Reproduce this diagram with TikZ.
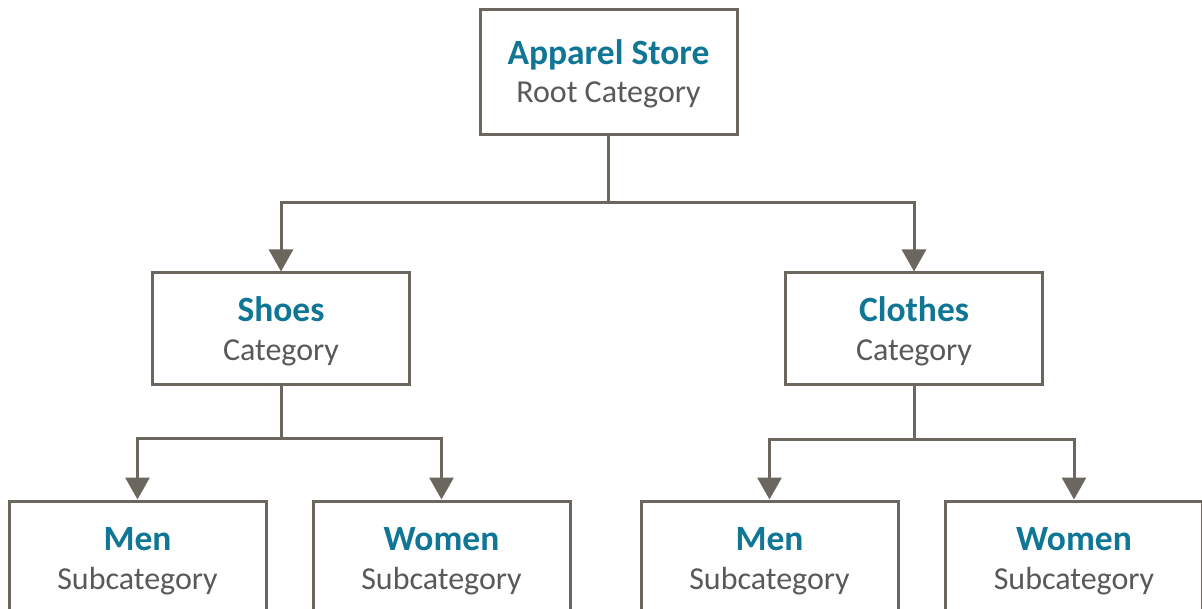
\documentclass[tikz,border=0pt]{standalone}
\usepackage{fontspec}
\setmainfont{Carlito}
\usetikzlibrary{arrows.meta}
\definecolor{linegray}{HTML}{6B675F}
\definecolor{titleteal}{HTML}{0F7696}
\definecolor{subgray}{HTML}{595959}
\tikzset{
  box/.style={draw=linegray, line width=3pt, fill=white, rectangle, minimum width=257pt, minimum height=112pt, inner sep=0pt},
  rootbox/.style={box, minimum height=125pt},
  ttl/.style={anchor=base, text=titleteal, font=\fontsize{35.5}{42}\selectfont\bfseries, inner sep=0pt},
  sub/.style={anchor=base, text=subgray, font=\fontsize{32}{38}\selectfont, inner sep=0pt},
  conn/.style={draw=linegray, line width=3pt, -{Triangle[width=24pt,length=22pt]}}
}
\begin{document}
\begin{tikzpicture}[x=1pt,y=-1pt]
\useasboundingbox (0,0) rectangle (1202,609);
\clip (0,0) rectangle (1202,609);
\node[rootbox] (root) at (608.5,72.5) {};
\node[box] (shoes) at (281,329) {};
\node[box] (clothes) at (914,329) {};
\node[box] (men1) at (137.5,557) {};
\node[box] (women1) at (441.5,557) {};
\node[box] (men2) at (769.5,557) {};
\node[box] (women2) at (1074,557) {};
\node[ttl] (rootT) at (608.5,65) {Apparel Store};
\node[sub] (rootS) at (608.5,103) {Root Category};
\node[ttl] (shoesT) at (281,322) {Shoes};
\node[sub] (shoesS) at (281,361) {Category};
\node[ttl] (clothesT) at (914,322) {Clothes};
\node[sub] (clothesS) at (914,361) {Category};
\node[ttl] (men1T) at (137.5,550) {Men};
\node[sub] (men1S) at (137.5,589) {Subcategory};
\node[ttl] (women1T) at (441.5,550) {Women};
\node[sub] (women1S) at (441.5,589) {Subcategory};
\node[ttl] (men2T) at (769.5,550) {Men};
\node[sub] (men2S) at (769.5,589) {Subcategory};
\node[ttl] (women2T) at (1074,550) {Women};
\node[sub] (women2S) at (1074,589) {Subcategory};
\draw[conn] (root.south) -- ++(0,66) -| (shoes.north);
\draw[conn] (root.south) -- ++(0,66) -| (clothes.north);
\draw[conn] (shoes.south) -- ++(0,52) -| (men1.north);
\draw[conn] (shoes.south) -- ++(0,52) -| (women1.north);
\draw[conn] (clothes.south) -- ++(0,53) -| (men2.north);
\draw[conn] (clothes.south) -- ++(0,53) -| (women2.north);
\end{tikzpicture}
\end{document}
